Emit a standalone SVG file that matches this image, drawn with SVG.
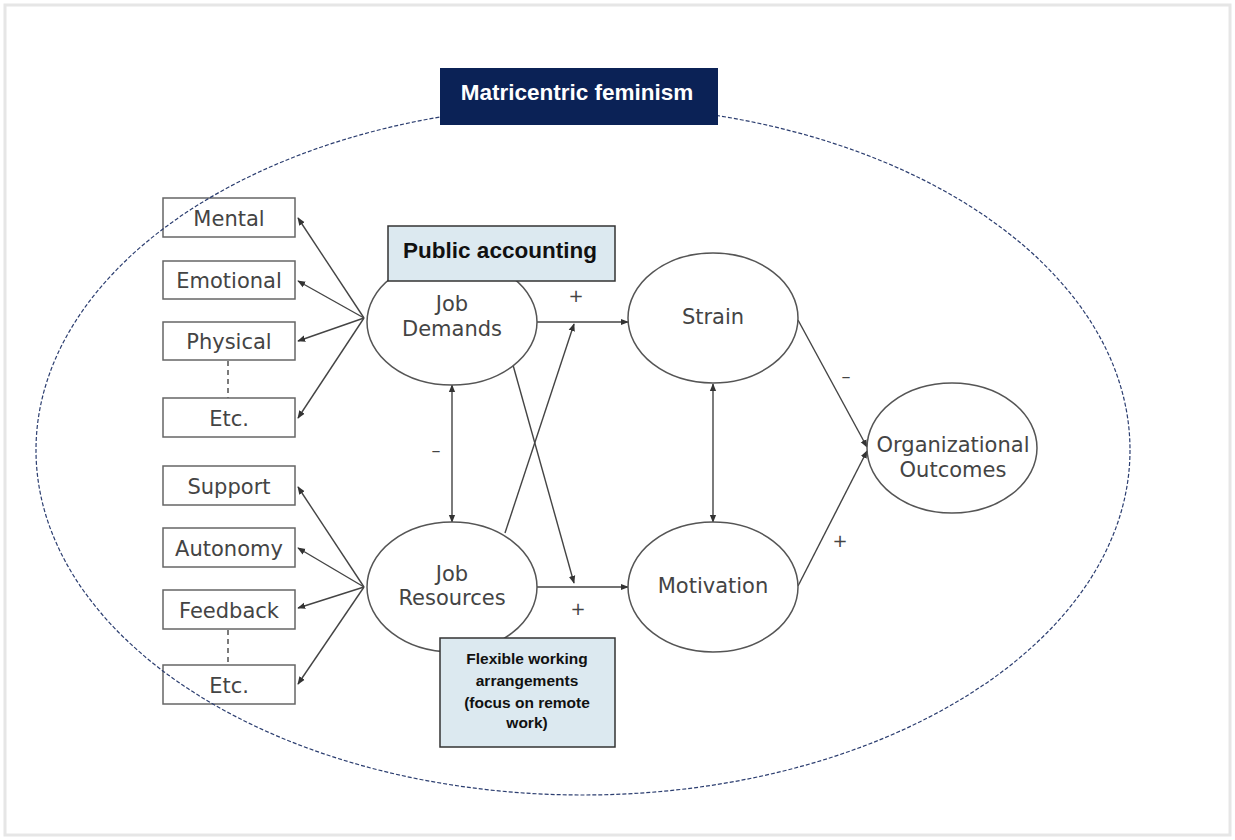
<svg xmlns="http://www.w3.org/2000/svg" width="1235" height="840" viewBox="0 0 1235 840">
<style>
.node{fill:#fff;stroke:#555;stroke-width:1.5}
.box{fill:#fff;stroke:#666;stroke-width:1.5}
.lbl{font-family:"DejaVu Sans",Verdana,sans-serif;font-size:21px;fill:#444;text-anchor:middle}
.sign{font-family:"DejaVu Sans",Verdana,sans-serif;font-size:18px;fill:#444;text-anchor:middle}
.conn{stroke:#444;stroke-width:1.4;fill:none}
.note{fill:#dce9f0;stroke:#333;stroke-width:1.5}
.nt{font-family:"Liberation Sans",Arial,sans-serif;font-weight:bold;fill:#111;text-anchor:middle}
</style>
<defs>
<marker id="ah" viewBox="0 0 10 10" refX="9" refY="5" markerWidth="8" markerHeight="8" markerUnits="userSpaceOnUse" orient="auto-start-reverse">
<path d="M0,1 L10,5 L0,9 z" fill="#333"/>
</marker>
</defs>
<rect x="0" y="0" width="1235" height="840" fill="#fff"/>
<rect x="5" y="5" width="1225" height="830" fill="none" stroke="#e6e6e6" stroke-width="3"/>
<g id="connectors">
<line class="conn" x1="364" y1="318" x2="298" y2="218" marker-end="url(#ah)"/>
<line class="conn" x1="364" y1="318" x2="298" y2="281" marker-end="url(#ah)"/>
<line class="conn" x1="364" y1="318" x2="298" y2="341" marker-end="url(#ah)"/>
<line class="conn" x1="364" y1="318" x2="298" y2="418" marker-end="url(#ah)"/>
<line class="conn" x1="364" y1="587" x2="298" y2="487" marker-end="url(#ah)"/>
<line class="conn" x1="364" y1="587" x2="298" y2="548" marker-end="url(#ah)"/>
<line class="conn" x1="364" y1="587" x2="298" y2="608" marker-end="url(#ah)"/>
<line class="conn" x1="364" y1="587" x2="298" y2="684" marker-end="url(#ah)"/>
<line class="conn" x1="228" y1="361" x2="228" y2="398" stroke-dasharray="5,4"/>
<line class="conn" x1="228" y1="630" x2="228" y2="665" stroke-dasharray="5,4"/>
<line class="conn" x1="452" y1="385" x2="452" y2="522" marker-start="url(#ah)" marker-end="url(#ah)"/>
<line class="conn" x1="713" y1="384" x2="713" y2="522" marker-start="url(#ah)" marker-end="url(#ah)"/>
<line class="conn" x1="537" y1="322" x2="628" y2="322" marker-end="url(#ah)"/>
<line class="conn" x1="537" y1="587" x2="628" y2="587" marker-end="url(#ah)"/>
<line class="conn" x1="513" y1="365" x2="574" y2="583" marker-end="url(#ah)"/>
<line class="conn" x1="505" y1="533" x2="574" y2="324" marker-end="url(#ah)"/>
<line class="conn" x1="798" y1="320" x2="867" y2="447" marker-end="url(#ah)"/>
<line class="conn" x1="798" y1="586" x2="867" y2="451" marker-end="url(#ah)"/>
<text class="sign" x="576" y="302">+</text>
<text class="sign" x="436" y="456">–</text>
<text class="sign" x="578" y="615">+</text>
<text class="sign" x="846" y="382">–</text>
<text class="sign" x="840" y="547">+</text>
</g>
<g id="mental"><rect class="box" x="163" y="198" width="132" height="39"/><text class="lbl" x="229" y="226">Mental</text></g>
<g id="emotional"><rect class="box" x="163" y="261" width="132" height="38"/><text class="lbl" x="229" y="288">Emotional</text></g>
<g id="physical"><rect class="box" x="163" y="322" width="132" height="38"/><text class="lbl" x="229" y="349">Physical</text></g>
<g id="etc1"><rect class="box" x="163" y="398" width="132" height="39"/><text class="lbl" x="229" y="426">Etc.</text></g>
<g id="support"><rect class="box" x="163" y="466" width="132" height="39"/><text class="lbl" x="229" y="494">Support</text></g>
<g id="autonomy"><rect class="box" x="163" y="528" width="132" height="39"/><text class="lbl" x="229" y="556">Autonomy</text></g>
<g id="feedback"><rect class="box" x="163" y="590" width="132" height="39"/><text class="lbl" x="229" y="618">Feedback</text></g>
<g id="etc2"><rect class="box" x="163" y="665" width="132" height="39"/><text class="lbl" x="229" y="693">Etc.</text></g>
<g id="job-demands"><ellipse class="node" cx="452" cy="322" rx="85" ry="63"/><text class="lbl" x="452" y="311">Job</text><text class="lbl" x="452" y="336">Demands</text></g>
<g id="job-resources"><ellipse class="node" cx="452" cy="587" rx="85" ry="65"/><text class="lbl" x="452" y="581">Job</text><text class="lbl" x="452" y="605">Resources</text></g>
<g id="strain"><ellipse class="node" cx="713" cy="318" rx="85" ry="65"/><text class="lbl" x="713" y="324">Strain</text></g>
<g id="motivation"><ellipse class="node" cx="713" cy="587" rx="85" ry="65"/><text class="lbl" x="713" y="593">Motivation</text></g>
<g id="outcomes"><ellipse class="node" cx="952" cy="448" rx="85" ry="65"/><text class="lbl" x="953" y="452">Organizational</text><text class="lbl" x="953" y="477">Outcomes</text></g>
<g id="public-accounting"><rect class="note" x="388" y="226" width="227" height="55"/><text class="nt" x="500" y="258" font-size="22.5">Public accounting</text></g>
<g id="flexible"><rect class="note" x="440" y="638" width="175" height="109"/><text class="nt" font-size="15.5" x="527" y="664">Flexible working</text><text class="nt" font-size="15.5" x="527" y="686">arrangements</text><text class="nt" font-size="15.5" x="527" y="708">(focus on remote</text><text class="nt" font-size="15.5" x="527" y="728">work)</text></g>
<g id="frame">
<ellipse cx="583" cy="450" rx="547" ry="345" fill="none" stroke="#2c3e70" stroke-width="1.2" stroke-dasharray="4,2"/>
</g>
<g id="matricentric"><rect x="440" y="68" width="278" height="57" fill="#0b2256"/><text x="577" y="100" font-family="Liberation Sans,Arial,sans-serif" font-weight="bold" font-size="22.5" fill="#fff" text-anchor="middle">Matricentric feminism</text></g>
</svg>
